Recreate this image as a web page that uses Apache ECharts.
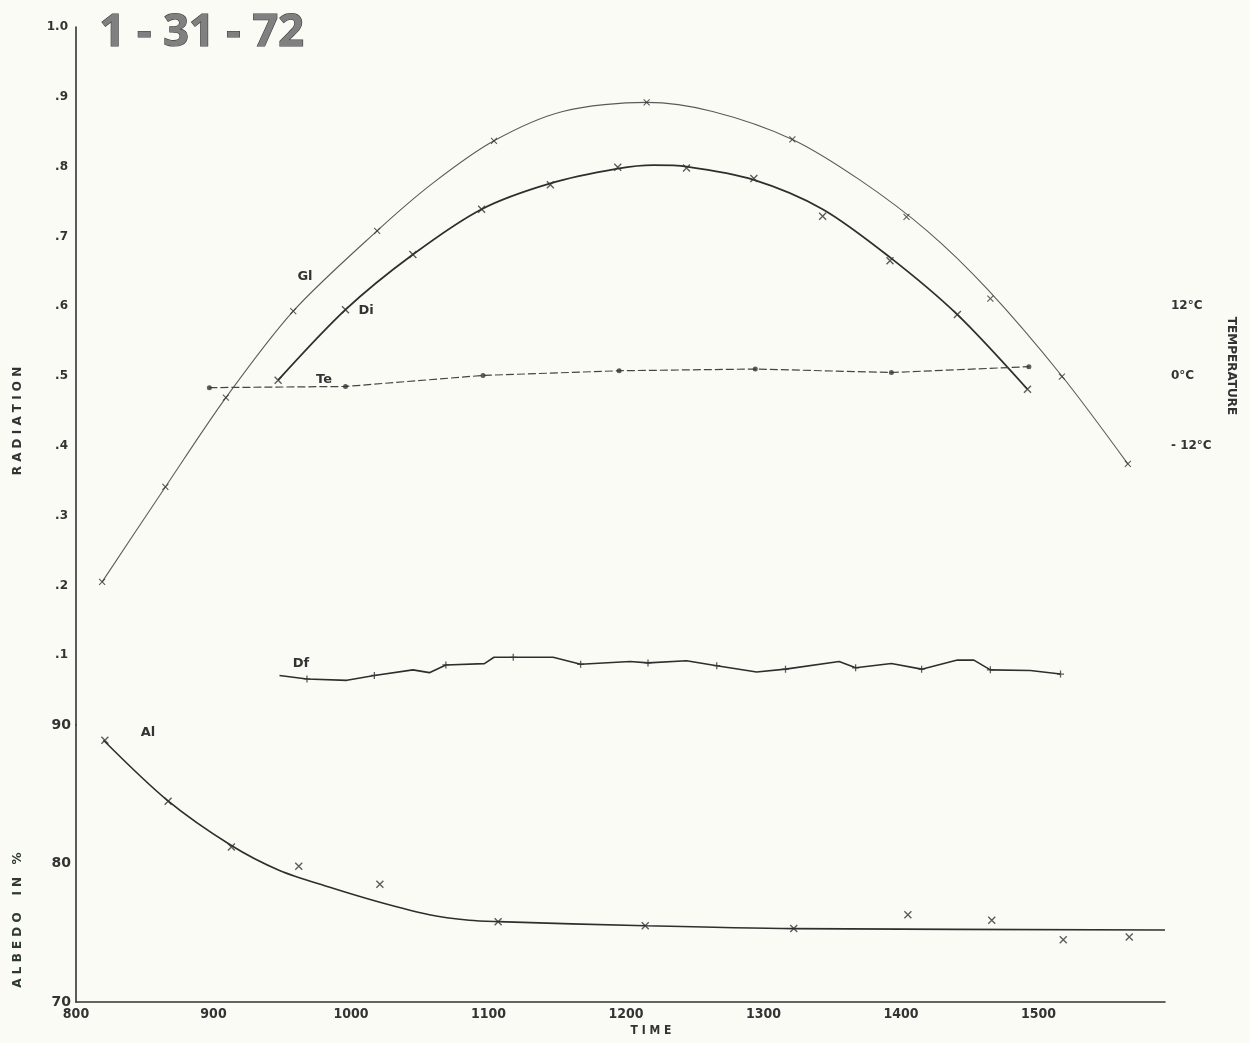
<!DOCTYPE html>
<html>
<head>
<meta charset="utf-8">
<script src="https://cdn.jsdelivr.net/npm/echarts@6/dist/echarts.min.js"></script>
<style>
html,body{margin:0;padding:0;background:#fbfbf6;}
#chart{width:1250px;height:1043px;}
</style>
</head>
<body>
<div id="chart"></div>
<script>
// ---- data ----
const timeTicks = [800, 900, 1000, 1100, 1200, 1300, 1400, 1500];
const radiationTicks = [0.1, 0.2, 0.3, 0.4, 0.5, 0.6, 0.7, 0.8, 0.9, 1.0];
const albedoTicks = [70, 80, 90];
const temperatureTicks = [-12, 0, 12];

// Gl (global radiation): fitted curve and measured points
const glCurveTime = [819, 865, 909, 958, 1019, 1060, 1104, 1154, 1215, 1263, 1321, 1370, 1419, 1463, 1517, 1565];
const glCurveRad  = [0.205, 0.341, 0.469, 0.593, 0.708, 0.777, 0.837, 0.879, 0.892, 0.879, 0.839, 0.781, 0.708, 0.624, 0.500, 0.374];
const glPointTime = [819, 865, 909, 958, 1019, 1104, 1215, 1321, 1404, 1465, 1517, 1565];
const glPointRad  = [0.205, 0.341, 0.469, 0.593, 0.708, 0.837, 0.892, 0.839, 0.728, 0.611, 0.499, 0.374];

// Di (direct radiation)
const diCurveTime = [947, 996, 1045, 1095, 1145, 1194, 1220, 1244, 1293, 1343, 1392, 1441, 1492];
const diCurveRad  = [0.494, 0.595, 0.674, 0.739, 0.776, 0.797, 0.802, 0.800, 0.781, 0.739, 0.670, 0.588, 0.481];
const diPointTime = [947, 996, 1045, 1095, 1145, 1194, 1244, 1293, 1343, 1392, 1441, 1492];
const diPointRad  = [0.494, 0.595, 0.674, 0.739, 0.774, 0.799, 0.798, 0.783, 0.729, 0.665, 0.588, 0.481];

// Te (temperature, deg C)
const teTime = [897, 996, 1096, 1195, 1294, 1393, 1493];
const teTemp = [-2.0, -1.8, 0.1, 0.9, 1.2, 0.6, 1.6];

// Df (diffuse radiation)
const dfLineTime = [948, 968, 997, 1017, 1045, 1057, 1069, 1097, 1104, 1118, 1147, 1167, 1203, 1216, 1244, 1266, 1295, 1316, 1355, 1367, 1393, 1415, 1441, 1453, 1465, 1494, 1516];
const dfLineRad  = [0.071, 0.066, 0.064, 0.071, 0.079, 0.075, 0.086, 0.088, 0.097, 0.097, 0.097, 0.087, 0.091, 0.089, 0.092, 0.085, 0.076, 0.080, 0.091, 0.082, 0.088, 0.080, 0.093, 0.093, 0.079, 0.078, 0.073];
const dfPointTime = [968, 1017, 1069, 1118, 1167, 1216, 1266, 1316, 1367, 1415, 1465, 1516];
const dfPointRad  = [0.066, 0.071, 0.086, 0.097, 0.087, 0.089, 0.085, 0.080, 0.082, 0.080, 0.079, 0.073];

// Al (albedo, %)
const alCurveTime = [820, 866, 913, 948, 984, 1021, 1057, 1086, 1107, 1214, 1322, 1592];
const alCurveVal  = [88.9, 84.6, 81.3, 79.5, 78.3, 77.2, 76.3, 75.9, 75.8, 75.5, 75.3, 75.2];
const alPointTime = [821, 867, 913, 962, 1021, 1107, 1214, 1322, 1405, 1466, 1518, 1566];
const alPointVal  = [88.9, 84.5, 81.2, 79.8, 78.5, 75.8, 75.5, 75.3, 76.3, 75.9, 74.5, 74.7];

// ---- helpers ----
const zip = (a, b) => a.map((v, i) => [v, b[i]]);
const INK = '#333';
const crossPath = 'path://M0,0L10,10M10,0L0,10';
const plusPath = 'path://M5,0L5,10M0,5L10,5';
const FONT = '"DejaVu Sans", sans-serif';
const FONT_C = '"DejaVu Sans Condensed", "DejaVu Sans", sans-serif';
const X_MIN = 800, X_MAX = 1592;

function markerSeries(name, data, xi, yi, sym, size, bw) {
  return {
    name, type: 'scatter', xAxisIndex: xi, yAxisIndex: yi, data,
    symbol: sym, symbolSize: size, silent: true, z: 5,
    itemStyle: { color: 'rgba(0,0,0,0)', borderColor: INK, borderWidth: bw }
  };
}
function lineSeries(name, data, xi, yi, color, width, smooth, type) {
  return {
    name, type: 'line', xAxisIndex: xi, yAxisIndex: yi, data,
    showSymbol: false, symbol: 'none', smooth: smooth, silent: true,
    lineStyle: { color, width, type: type || 'solid' }, z: 3
  };
}

const chart = echarts.init(document.getElementById('chart'), null, { renderer: 'canvas' });
const option = {
  backgroundColor: '#fbfbf6',
  animation: false,
  grid: [
    { left: 76, right: 85, top: 27, height: 698 },
    { left: 76, right: 85, top: 725, height: 277 }
  ],
  xAxis: [
    { type: 'value', gridIndex: 0, min: X_MIN, max: X_MAX, interval: 100, show: false },
    { type: 'value', gridIndex: 1, min: X_MIN, max: X_MAX, interval: 100,
      axisLine: { show: true, lineStyle: { color: INK, width: 1.6 } },
      axisTick: { show: false }, splitLine: { show: false },
      axisLabel: { show: true, margin: 5, color: INK, fontFamily: FONT_C, fontWeight: 'bold', fontSize: 14,
        showMaxLabel: false,
        formatter: v => (timeTicks.indexOf(v) >= 0 ? String(v) : '') } }
  ],
  yAxis: [
    { type: 'value', gridIndex: 0, min: 0, max: 1, interval: 0.1,
      axisLine: { show: true, lineStyle: { color: INK, width: 1.6 } },
      axisTick: { show: false }, splitLine: { show: false },
      axisLabel: { margin: 8, color: INK, fontFamily: FONT, fontWeight: 'bold', fontSize: 12,
        formatter: v => {
          const r = Math.round(v * 10) / 10;
          if (radiationTicks.indexOf(r) < 0) return '';
          return r === 1 ? '1.0' : '.' + Math.round(r * 10);
        } } },
    { type: 'value', gridIndex: 0, position: 'right', min: -60, max: 60, interval: 12,
      axisLine: { show: false }, axisTick: { show: false }, splitLine: { show: false },
      axisLabel: { margin: 6, color: INK, fontFamily: FONT, fontWeight: 'bold', fontSize: 12,
        formatter: v => (temperatureTicks.indexOf(v) >= 0 ? (v < 0 ? '- ' + (-v) : v) + '°C' : '') } },
    { type: 'value', gridIndex: 1, min: 70, max: 90, interval: 10,
      axisLine: { show: true, lineStyle: { color: INK, width: 1.6 } },
      axisTick: { show: false }, splitLine: { show: false },
      axisLabel: { margin: 5, color: INK, fontFamily: FONT, fontWeight: 'bold', fontSize: 14,
        formatter: v => (albedoTicks.indexOf(v) >= 0 ? String(v) : '') } }
  ],
  series: [
    lineSeries('Gl', zip(glCurveTime, glCurveRad), 0, 0, '#5a5a5a', 1.1, 0.3),
    markerSeries('Gl pts', zip(glPointTime, glPointRad), 0, 0, crossPath, 6, 1.1),
    lineSeries('Di', zip(diCurveTime, diCurveRad), 0, 0, '#2e2e2e', 1.8, 0.3),
    markerSeries('Di pts', zip(diPointTime, diPointRad), 0, 0, crossPath, 7, 1.4),
    lineSeries('Te', zip(teTime, teTemp), 0, 1, '#444', 1.2, false, [8, 3]),
    { name: 'Te pts', type: 'scatter', xAxisIndex: 0, yAxisIndex: 1, data: zip(teTime, teTemp),
      symbol: 'circle', symbolSize: 5, silent: true, z: 5, itemStyle: { color: '#333' } },
    lineSeries('Df', zip(dfLineTime, dfLineRad), 0, 0, '#2e2e2e', 1.6, false),
    markerSeries('Df pts', zip(dfPointTime, dfPointRad), 0, 0, plusPath, 7, 1.3),
    lineSeries('Al', zip(alCurveTime, alCurveVal), 1, 2, '#2e2e2e', 1.6, 0.3),
    markerSeries('Al pts', zip(alPointTime, alPointVal), 1, 2, crossPath, 7, 1.4)
  ],
  graphic: [
    { type: 'text', left: 99, top: 10, z: 10,
      style: { text: '1 - 31 - 72', font: 'bold 45px "Open Sans", "DejaVu Sans", sans-serif',
        fill: '#808080', stroke: '#3c3c3c', lineWidth: 1.2 } },
    { type: 'text', x: 305, y: 277, z: 10, style: { text: 'Gl', font: 'bold 13px ' + FONT, fill: INK, align: 'center', verticalAlign: 'middle' } },
    { type: 'text', x: 366, y: 311, z: 10, style: { text: 'Di', font: 'bold 13px ' + FONT, fill: INK, align: 'center', verticalAlign: 'middle' } },
    { type: 'text', x: 324, y: 380, z: 10, style: { text: 'Te', font: 'bold 13px ' + FONT, fill: INK, align: 'center', verticalAlign: 'middle' } },
    { type: 'text', x: 301, y: 664, z: 10, style: { text: 'Df', font: 'bold 13px ' + FONT, fill: INK, align: 'center', verticalAlign: 'middle' } },
    { type: 'text', x: 148, y: 733, z: 10, style: { text: 'Al', font: 'bold 13px ' + FONT, fill: INK, align: 'center', verticalAlign: 'middle' } },
    { type: 'text', x: 18, y: 421, rotation: Math.PI / 2, z: 10,
      style: { text: 'R A D I A T I O N', font: 'bold 12px ' + FONT, fill: INK, align: 'center', verticalAlign: 'middle' } },
    { type: 'text', x: 18, y: 920, rotation: Math.PI / 2, z: 10,
      style: { text: 'A L B E D O    I N   %', font: 'bold 12px ' + FONT, fill: '#2f3a2f', align: 'center', verticalAlign: 'middle' } },
    { type: 'text', x: 1231, y: 366, rotation: -Math.PI / 2, z: 10,
      style: { text: 'TEMPERATURE', font: 'bold 12px ' + FONT, fill: INK, align: 'center', verticalAlign: 'middle' } },
    { type: 'text', x: 651, y: 1031, z: 10,
      style: { text: 'T I M E', font: 'bold 12px ' + FONT_C, fill: INK, align: 'center', verticalAlign: 'middle' } }
  ]
};
chart.setOption(option);
</script>
</body>
</html>
